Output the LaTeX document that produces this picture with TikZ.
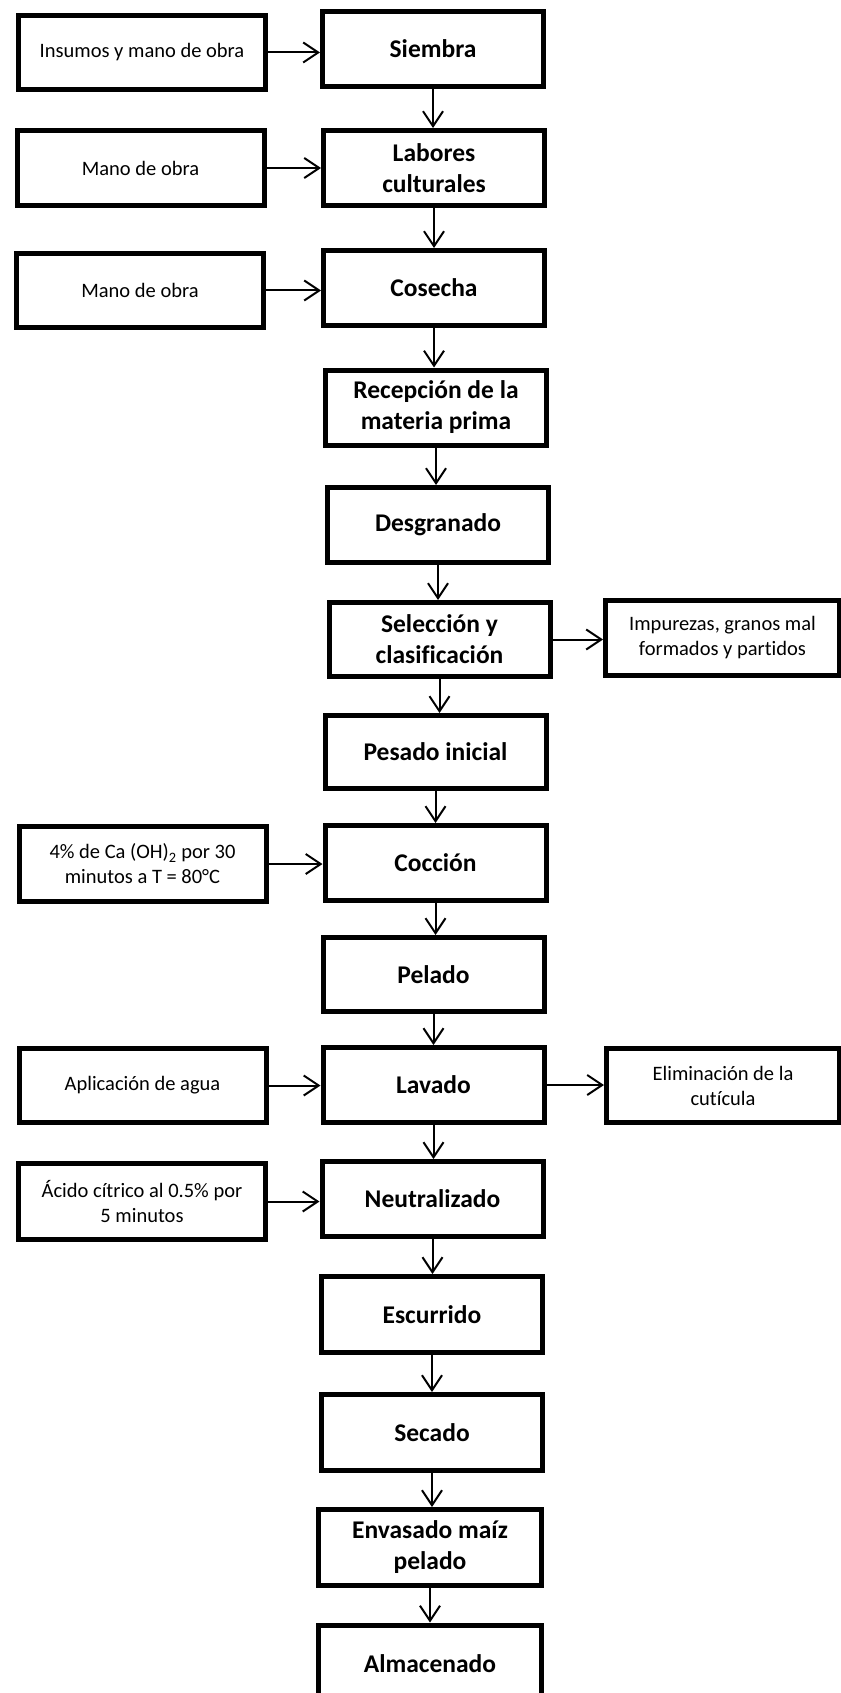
\documentclass[tikz,border=0pt]{standalone}
\usepackage{fontspec}
\setmainfont{Carlito}[Ligatures=NoCommon]
\usetikzlibrary{arrows.meta}
\tikzset{
  mainbox/.style={draw, line width=5pt, inner sep=0pt, align=center,
    minimum width=221pt, minimum height=75pt,
    font=\fontsize{25.5}{31}\selectfont\bfseries},
  sidebox/.style={draw, line width=5pt, inner sep=0pt, align=center,
    minimum width=247pt, minimum height=74pt,
    font=\fontsize{20.5}{25}\selectfont},
  arr/.style={line width=2pt, -{Straight Barb[length=15pt,width=20pt,line width=2pt]}}
}
\begin{document}
\begin{tikzpicture}[x=1pt,y=-1pt]
\useasboundingbox (0,0) rectangle (840,1693);
% main column
\node[mainbox] (sie) at (433,49) {Siembra};
\node[mainbox] (lab) at (434,168) {Labores\\culturales};
\node[mainbox] (cos) at (434,288) {Cosecha};
\node[mainbox] (rec) at (436,407.5) {Recepción de la\\materia prima};
\node[mainbox] (des) at (438,525) {Desgranado};
\node[mainbox, minimum height=74pt] (sel) at (439.5,639.5) {Selección y\\clasificación};
\node[mainbox, minimum height=73pt] (pes) at (435.5,752) {Pesado inicial};
\node[mainbox] (coc) at (435.5,863) {Cocción};
\node[mainbox, minimum height=74pt] (pel) at (433.5,974.5) {Pelado};
\node[mainbox] (lav) at (433.5,1085) {Lavado};
\node[mainbox] (neu) at (432.5,1199) {Neutralizado};
\node[mainbox, minimum height=76pt] (esc) at (432,1314.5) {Escurrido};
\node[mainbox, minimum height=76pt] (sec) at (432,1432.5) {Secado};
\node[mainbox, minimum width=223pt, minimum height=76pt] (env) at (430,1547.5) {Envasado maíz\\pelado};
\node[mainbox, minimum width=223pt, minimum height=78pt] (alm) at (430,1664) {Almacenado};
% side boxes left
\node[sidebox] (ins) at (142,52.5) {Insumos y mano de obra};
\node[sidebox, minimum height=75pt] (mo1) at (140.5,168) {Mano de obra};
\node[sidebox] (mo2) at (140,290.5) {Mano de obra};
\node[sidebox, minimum height=75pt] (ca) at (142.5,864) {4\% de Ca (OH)\textsubscript{2} por 30\\minutos a T = 80°C};
\node[sidebox] (agu) at (142.5,1085.5) {Aplicación de agua};
\node[sidebox, minimum height=76pt] (aci) at (142,1201.5) {Ácido cítrico al 0.5\% por\\5 minutos};
% side boxes right
\node[sidebox, minimum width=234pt, minimum height=75pt] (imp) at (722.5,638) {Impurezas, granos mal\\formados y partidos};
\node[sidebox, minimum width=233pt] (eli) at (723,1085.5) {Eliminación de la\\cutícula};
% vertical arrows
\foreach \a/\b in {sie/lab,lab/cos,cos/rec,rec/des,des/sel,sel/pes,pes/coc,coc/pel,pel/lav,lav/neu,neu/esc,esc/sec,sec/env,env/alm}
  \draw[arr] (\a.south) -- (\a.south |- \b.north);
% horizontal arrows
\foreach \a/\b in {ins/sie,mo1/lab,mo2/cos,ca/coc,agu/lav,aci/neu,sel/imp,lav/eli}
  \draw[arr] (\a.east) -- (\a.east -| \b.west);
\end{tikzpicture}
\end{document}
